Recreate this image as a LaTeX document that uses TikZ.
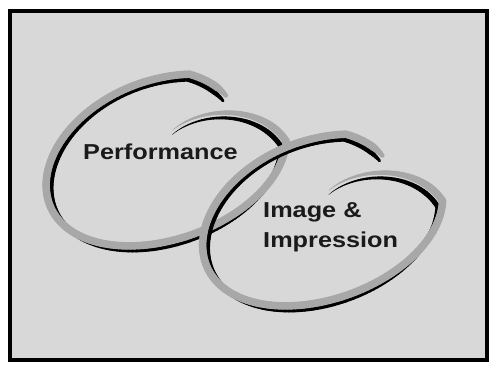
\documentclass[tikz,border=0pt]{standalone}
\usepackage{fontspec}
\newfontfamily\labfont{Liberation Sans}
\definecolor{bg}{HTML}{D8D8D8}
\definecolor{ribbon}{HTML}{A8A8A8}
\definecolor{ink}{HTML}{1A1A1A}
\tikzset{
  declare function={
    sf(\t)=0.97-0.0068*max(0,70-\t)-0.0075*max(0,\t-350);
    wf(\t)=max(0.05,min(1,min((\t-32)/20,(436-\t)/75)));
    ey(\t,\a)=sf(\t)*(\a*cos(\t)*sin(16)+85*sin(\t)*cos(16));
    ex(\t,\a)=sf(\t)*(\a*cos(\t)*cos(16)-85*sin(\t)*sin(16))-18*((1-ey(\t,\a)/85)/2)^2+4;
  },
  lab/.style={inner sep=0pt, text=ink, font=\labfont\bfseries\fontsize{21.6}{26}\selectfont, xscale=1.17},
  frame/.style={draw=black, line width=4pt, fill=bg},
}
\newcommand\swirlpart[5]{% cx, cy, a, width factor, color
  \foreach \t in {44,46,...,432}{
    \pgfmathsetmacro\wd{#4*wf(\t)}
    \draw[#5, line width=\wd pt, line cap=round]
      ({#1+ex(\t,#3)},{#2+ey(\t,#3)}) -- ({#1+ex(\t+2,#3)},{#2+ey(\t+2,#3)});
  }
}
\newcommand\swirl[2]{% cx, cy
  \swirlpart{#1}{#2-4.5}{119}{5}{black}
  \swirlpart{#1}{#2}{124}{7.5}{ribbon}
}
\begin{document}
\begin{tikzpicture}[x=1pt,y=1pt]
\useasboundingbox (0,0) rectangle (490,367);
\fill[white] (0,0) rectangle (490,367);
\path[frame] (10,7) rectangle (487,356);
\swirl{167}{207}
\swirl{323.5}{147}
\node[lab, anchor=base west] (perf) at (83,207) {Performance};
\node[lab, anchor=base west] (img) at (263,149) {Image \&};
\node[lab, anchor=base west] (imp) at (263,119) {Impression};
\end{tikzpicture}
\end{document}
